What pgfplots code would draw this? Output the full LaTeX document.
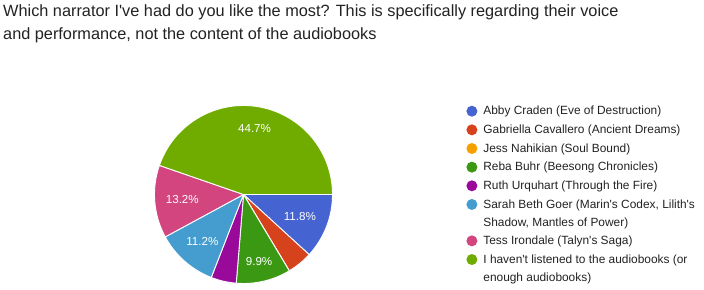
\documentclass[border=0pt]{standalone}
\usepackage{pgfplots}
\pgfplotsset{compat=1.18}
\usepackage{pgfplotstable}
\usetikzlibrary{calc}
\usepackage{fontspec}
\setmainfont{Liberation Sans}
\newcommand\ap{\textquotesingle}

\definecolor{c0}{HTML}{4563D1}
\definecolor{c1}{HTML}{D5421B}
\definecolor{c2}{HTML}{F4A000}
\definecolor{c3}{HTML}{3A9813}
\definecolor{c4}{HTML}{9A0A9A}
\definecolor{c5}{HTML}{449DCE}
\definecolor{c6}{HTML}{D2457F}
\definecolor{c7}{HTML}{70AC00}
\definecolor{titlegray}{HTML}{222222}

% percentage of answers, label shown (1/0), label distance (share of radius)
\pgfplotstableread{
pct  lab  r
11.8 1    0.68
4.6  0    0.70
0.0  0    0.70
9.9  1    0.77
4.6  0    0.70
11.2 1    0.70
13.2 1    0.69
44.7 1    0.75
}\pietable

\def\cum{0}
\pgfplotsforeachungrouped \i in {0,...,7}{%
  \pgfplotstablegetelem{\i}{pct}\of\pietable
  \pgfmathsetmacro\pp{\pgfplotsretval}%
  \pgfmathsetmacro\sa{-\cum*3.6}%
  \pgfmathsetmacro\ea{-(\cum+\pp)*3.6}%
  \pgfmathsetmacro\ma{(\sa+\ea)/2}%
  \expandafter\xdef\csname sA\i\endcsname{\sa}%
  \expandafter\xdef\csname eA\i\endcsname{\ea}%
  \expandafter\xdef\csname mA\i\endcsname{\ma}%
  \expandafter\xdef\csname pP\i\endcsname{\pp}%
  \pgfplotstablegetelem{\i}{lab}\of\pietable
  \expandafter\xdef\csname lB\i\endcsname{\pgfplotsretval}%
  \pgfplotstablegetelem{\i}{r}\of\pietable
  \pgfmathsetmacro\rr{\pgfplotsretval*89}%
  \expandafter\xdef\csname rR\i\endcsname{\rr}%
  \pgfmathsetmacro\cc{\cum+\pp}%
  \xdef\cum{\cc}%
}

\begin{document}
\begin{tikzpicture}
\begin{axis}[
  width=704bp, height=290bp, scale only axis,
  xmin=0, xmax=704, ymin=0, ymax=290,
  axis lines=none, clip=false,
  /pgf/number format/assume math mode=true,
  legend style={at={(axis cs:466.2,184.5)}, anchor=north west,
    draw=none, fill=none, font=\fontsize{11.9bp}{13bp}\selectfont,
    text=titlegray, row sep=7.65bp, inner sep=0bp,
    nodes={inner sep=0bp, font=\fontsize{11.9bp}{13bp}\selectfont},
    /tikz/every odd column/.append style={column sep=6bp}},
  legend cell align=left,
  legend image code/.code={\path[draw=none, fill=none, use as bounding box] (-5.5bp,-5.5bp) rectangle (5.5bp,5.5bp);
     \fill[#1, draw=none] (0bp,0bp) circle (5.5bp);},
]
\pgfplotsinvokeforeach{0,...,7}{
  \fill[c#1, draw=white, line width=0.9bp, line join=round]
    (axis cs:243.5,95.5) -- ++(\csname sA#1\endcsname:89bp)
    arc[start angle=\csname sA#1\endcsname, end angle=\csname eA#1\endcsname, radius=89bp] -- cycle;
}
\pgfplotsinvokeforeach{0,...,7}{
  \ifnum\csname lB#1\endcsname=1
  \node[text=white, font=\fontsize{11.6bp}{13bp}\selectfont]
    at ($(axis cs:243.5,95.5)+(\csname mA#1\endcsname:\csname rR#1\endcsname bp)$)
    {\pgfmathprintnumber[fixed, fixed zerofill, precision=1]{\csname pP#1\endcsname}\%};
  \fi
}
\node[anchor=base west, text=titlegray, inner sep=0bp, font=\fontsize{16.3bp}{21bp}\selectfont]
  at (axis cs:3,273.3) {Which narrator I\ap ve had do you like the most? This is specifically regarding their voice};
\node[anchor=base west, text=titlegray, inner sep=0bp, font=\fontsize{16.3bp}{21bp}\selectfont]
  at (axis cs:3,251) {and performance, not the content of the audiobooks};

\addlegendimage{c0}\addlegendentry{Abby Craden (Eve of Destruction)}
\addlegendimage{c1}\addlegendentry{Gabriella Cavallero (Ancient Dreams)}
\addlegendimage{c2}\addlegendentry{Jess Nahikian (Soul Bound)}
\addlegendimage{c3}\addlegendentry{Reba Buhr (Beesong Chronicles)}
\addlegendimage{c4}\addlegendentry{Ruth Urquhart (Through the Fire)}
\addlegendimage{c5}\addlegendentry{Sarah Beth Goer (Marin\ap s Codex, Lilith\ap s}
\addlegendimage{empty legend}\addlegendentry{Shadow, Mantles of Power)}
\addlegendimage{c6}\addlegendentry{Tess Irondale (Talyn\ap s Saga)}
\addlegendimage{c7}\addlegendentry{I haven\ap t listened to the audiobooks (or}
\addlegendimage{empty legend}\addlegendentry{enough audiobooks)}
\end{axis}
\pgfresetboundingbox
\useasboundingbox (current axis.south west) rectangle (current axis.north east);
\end{tikzpicture}
\end{document}
